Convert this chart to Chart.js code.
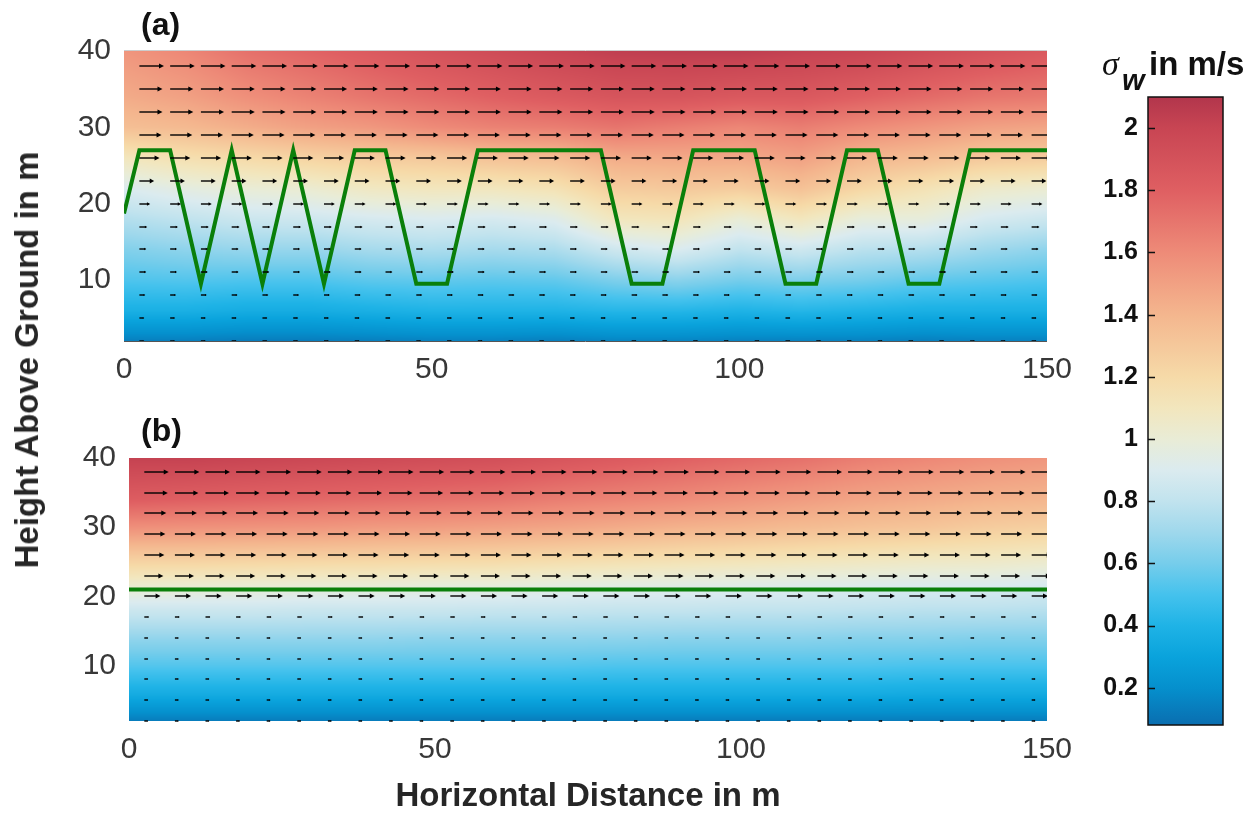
<!DOCTYPE html>
<html>
<head>
<meta charset="utf-8">
<script src="https://cdn.jsdelivr.net/npm/chart.js@4.4.1/dist/chart.umd.min.js"></script>
<style>
  body { margin: 0; background: #fff; width: 1259px; height: 814px; position: relative; overflow: hidden; }
  canvas { position: absolute; }
  #ylab {
    position: absolute; left: 27px; top: 360px;
    transform: translate(-50%, -50%) rotate(-90deg);
    white-space: nowrap; color: #262626;
    font: bold 33px "Liberation Sans", Arial, sans-serif;
  }
</style>
</head>
<body>
<canvas id="panelA" width="1100" height="400" style="left:0;top:0"></canvas>
<canvas id="panelB" width="1100" height="414" style="left:0;top:400px"></canvas>
<canvas id="cbar" width="219" height="814" style="left:1040px;top:0"></canvas>
<div id="ylab">Height Above Ground in m</div>
<script>
const FONT = '"Liberation Sans", Arial, Helvetica, sans-serif';

// axes ticks
const xTicks = [0, 50, 100, 150];
const yTicks = [10, 20, 30, 40];
const cbTicks = [0.2, 0.4, 0.6, 0.8, 1, 1.2, 1.4, 1.6, 1.8, 2];
const cMin = 0.08, cMax = 2.1;

// sigma_w field (m/s), columns at gridX, rows at gridY (bottom row first)
const gridX = [0, 10, 20, 30, 40, 50, 60, 70, 80, 90, 100, 110, 120, 130, 140, 150];
const gridY = [2, 6, 10, 14, 18, 22, 26, 30, 34, 40];

const sigmaA = [
  [0.14, 0.14, 0.13, 0.13, 0.14, 0.15, 0.15, 0.14, 0.16, 0.16, 0.15, 0.15, 0.15, 0.14, 0.15, 0.15],
  [0.38, 0.38, 0.36, 0.36, 0.38, 0.40, 0.40, 0.40, 0.42, 0.42, 0.40, 0.42, 0.40, 0.38, 0.38, 0.38],
  [0.52, 0.53, 0.52, 0.52, 0.55, 0.56, 0.55, 0.56, 0.62, 0.65, 0.60, 0.62, 0.60, 0.56, 0.54, 0.52],
  [0.63, 0.66, 0.68, 0.68, 0.72, 0.74, 0.72, 0.74, 0.85, 0.90, 0.80, 0.85, 0.78, 0.76, 0.70, 0.66],
  [0.76, 0.80, 0.84, 0.85, 0.88, 0.90, 0.88, 0.92, 1.10, 1.12, 1.00, 1.10, 0.98, 0.98, 0.88, 0.84],
  [0.90, 0.96, 1.00, 1.02, 1.08, 1.10, 1.10, 1.14, 1.28, 1.30, 1.28, 1.34, 1.22, 1.14, 1.05, 1.02],
  [1.10, 1.16, 1.20, 1.24, 1.28, 1.30, 1.34, 1.36, 1.45, 1.46, 1.46, 1.50, 1.40, 1.36, 1.30, 1.28],
  [1.35, 1.38, 1.44, 1.50, 1.54, 1.60, 1.64, 1.66, 1.70, 1.66, 1.62, 1.66, 1.60, 1.55, 1.50, 1.48],
  [1.45, 1.50, 1.58, 1.64, 1.70, 1.75, 1.80, 1.84, 1.88, 1.88, 1.85, 1.85, 1.80, 1.75, 1.70, 1.68],
  [1.55, 1.62, 1.72, 1.78, 1.84, 1.90, 1.95, 2.00, 2.04, 2.05, 2.05, 2.02, 2.00, 1.95, 1.90, 1.85]
];

const sigmaB = [
  [0.13, 0.13, 0.13, 0.13, 0.13, 0.13, 0.13, 0.13, 0.13, 0.13, 0.13, 0.13, 0.13, 0.13, 0.13, 0.13],
  [0.36, 0.36, 0.36, 0.36, 0.36, 0.36, 0.36, 0.36, 0.36, 0.36, 0.36, 0.36, 0.36, 0.35, 0.35, 0.35],
  [0.53, 0.53, 0.53, 0.53, 0.53, 0.53, 0.53, 0.53, 0.52, 0.52, 0.52, 0.52, 0.52, 0.51, 0.51, 0.51],
  [0.67, 0.67, 0.67, 0.67, 0.67, 0.66, 0.66, 0.66, 0.66, 0.65, 0.65, 0.65, 0.64, 0.64, 0.63, 0.63],
  [0.84, 0.84, 0.84, 0.83, 0.83, 0.83, 0.82, 0.82, 0.81, 0.81, 0.80, 0.80, 0.79, 0.78, 0.78, 0.77],
  [1.05, 1.04, 1.03, 1.02, 1.02, 1.00, 1.00, 0.98, 0.97, 0.96, 0.95, 0.94, 0.93, 0.92, 0.92, 0.90],
  [1.30, 1.30, 1.29, 1.28, 1.27, 1.26, 1.25, 1.23, 1.21, 1.19, 1.17, 1.15, 1.13, 1.11, 1.10, 1.08],
  [1.58, 1.57, 1.56, 1.55, 1.53, 1.52, 1.50, 1.48, 1.45, 1.42, 1.40, 1.37, 1.34, 1.32, 1.28, 1.26],
  [1.82, 1.80, 1.78, 1.76, 1.74, 1.72, 1.70, 1.66, 1.63, 1.60, 1.56, 1.52, 1.48, 1.45, 1.42, 1.40],
  [2.02, 2.02, 2.00, 1.98, 1.96, 1.94, 1.92, 1.88, 1.84, 1.80, 1.76, 1.72, 1.66, 1.62, 1.58, 1.55]
];

// wind arrows: tails at quiverX x quiverY, horizontal speed per row (m/s, bottom row first)
const quiverX = [2.5, 7.5, 12.5, 17.5, 22.5, 27.5, 32.5, 37.5, 42.5, 47.5, 52.5, 57.5, 62.5, 67.5, 72.5,
                 77.5, 82.5, 87.5, 92.5, 97.5, 102.5, 107.5, 112.5, 117.5, 122.5, 127.5, 132.5, 137.5, 142.5, 147.5];
const quiverY = [2, 5, 8, 11, 14, 17, 20, 23, 26, 29, 32, 35, 38];
const windA = [1.0, 1.0, 1.2, 1.4, 1.4, 1.6, 2.2, 3.0, 4.1, 4.5, 4.7, 4.7, 5.0];
const windB = [0.8, 0.8, 0.8, 0.8, 0.8, 1.0, 3.3, 3.9, 4.1, 4.3, 4.5, 4.8, 5.0];
const arrowScale = 0.8; // m of arrow per m/s

// green line (a): flight path, (b): constant height
const pathAx = [0, 2.5, 7.5, 12.5, 17.5, 22.5, 27.5, 32.5, 37.5, 42.5, 47.5, 52.5, 57.5, 77.5,
                82.5, 87.5, 92.5, 102.5, 107.5, 112.5, 117.5, 122.5, 127.5, 132.5, 137.5, 150];
const pathAy = [18.7, 27, 27, 9.5, 27, 9.5, 27, 9.5, 27, 27, 9.5, 9.5, 27, 27,
                9.5, 9.5, 27, 27, 9.5, 9.5, 27, 27, 9.5, 9.5, 27, 27];
const pathBx = [0, 150];
const pathBy = [21, 21];

// colormap
const cmapStops = [0.08, 0.2, 0.3, 0.4, 0.5, 0.6, 0.7, 0.8, 0.9, 1.0, 1.1, 1.2, 1.4, 1.6, 1.8, 2.0, 2.1];
const cmapColors = ['#0a6eb0', '#0590cd', '#0aa3dc', '#1fb3e6', '#45c2ed', '#76cdeb', '#9fd8ec', '#c1e3ee',
                    '#dbebef', '#e9ecd6', '#f2e6bd', '#f6daa8', '#f4b68e', '#ee8b78', '#df5f62', '#c84553', '#b2364c'];
const cmapRGB = cmapColors.map(h => [1, 3, 5].map(k => parseInt(h.substr(k, 2), 16)));

function colorFor(v) {
  if (v <= cmapStops[0]) return cmapRGB[0];
  const n = cmapStops.length;
  if (v >= cmapStops[n - 1]) return cmapRGB[n - 1];
  let k = 0;
  while (v > cmapStops[k + 1]) k++;
  const t = (v - cmapStops[k]) / (cmapStops[k + 1] - cmapStops[k]);
  return cmapRGB[k].map((c, m) => c + (cmapRGB[k + 1][m] - c) * t);
}

function findCell(arr, v) {
  let i = 0;
  while (i < arr.length - 2 && v > arr[i + 1]) i++;
  const t = Math.min(1, Math.max(0, (v - arr[i]) / (arr[i + 1] - arr[i])));
  return [i, t];
}

function fieldPlugin(field, wind, label) {
  return {
    id: 'field' + label,
    beforeDatasetsDraw(chart) {
      const { ctx, chartArea: a, scales: { x, y } } = chart;
      const w = Math.round(a.right - a.left), h = Math.round(a.bottom - a.top);
      const off = document.createElement('canvas');
      off.width = w; off.height = h;
      const octx = off.getContext('2d');
      const img = octx.createImageData(w, h);
      for (let py = 0; py < h; py++) {
        const [j, ty] = findCell(gridY, y.getValueForPixel(a.top + py + 0.5));
        for (let px = 0; px < w; px++) {
          const [i, tx] = findCell(gridX, x.getValueForPixel(a.left + px + 0.5));
          const v0 = field[j][i] + (field[j][i + 1] - field[j][i]) * tx;
          const v1 = field[j + 1][i] + (field[j + 1][i + 1] - field[j + 1][i]) * tx;
          const c = colorFor(v0 + (v1 - v0) * ty);
          const p = (py * w + px) * 4;
          img.data[p] = c[0]; img.data[p + 1] = c[1]; img.data[p + 2] = c[2]; img.data[p + 3] = 255;
        }
      }
      octx.putImageData(img, 0, 0);
      ctx.drawImage(off, a.left, a.top);
    },
    afterDatasetsDraw(chart) {
      const { ctx, chartArea: a, scales: { x, y } } = chart;
      ctx.save();
      ctx.beginPath();
      ctx.rect(a.left, a.top, a.right - a.left, a.bottom - a.top + 2);
      ctx.clip();
      ctx.strokeStyle = '#000';
      ctx.fillStyle = '#000';
      ctx.lineWidth = 1.4;
      quiverY.forEach((qy, j) => {
        quiverX.forEach(qx => {
          const x0 = x.getPixelForValue(qx), y0 = Math.round(y.getPixelForValue(qy));
          const x1 = x.getPixelForValue(qx + wind[j] * arrowScale);
          const L = x1 - x0, hl = Math.min(5, L * 0.3), hw = Math.min(2.6, hl * 0.55);
          ctx.beginPath();
          ctx.moveTo(x0, y0); ctx.lineTo(x1 - hl * 0.5, y0);
          ctx.stroke();
          ctx.beginPath();
          ctx.moveTo(x1, y0); ctx.lineTo(x1 - hl, y0 - hw); ctx.lineTo(x1 - hl, y0 + hw);
          ctx.closePath();
          ctx.fill();
        });
      });
      ctx.restore();
      if (label === 'a') {
        ctx.save();
        ctx.strokeStyle = '#555'; ctx.lineWidth = 1;
        ctx.beginPath(); ctx.moveTo(a.left, a.bottom + 0.5); ctx.lineTo(a.right, a.bottom + 0.5); ctx.stroke();
        ctx.strokeStyle = '#ccc';
        ctx.beginPath(); ctx.moveTo(a.left, a.top - 0.5); ctx.lineTo(a.right, a.top - 0.5); ctx.stroke();
        ctx.restore();
      }
    },
    afterDraw(chart) {
      const { ctx } = chart;
      ctx.save();
      ctx.font = 'bold 32px ' + FONT;
      ctx.fillStyle = '#111';
      ctx.textBaseline = 'middle';
      ctx.fillText('(' + label + ')', 141, label === 'a' ? 26 : 32);
      ctx.restore();
    }
  };
}

function panel(canvasId, field, wind, px, py, label, area, withTitle) {
  return new Chart(document.getElementById(canvasId), {
    type: 'scatter',
    data: {
      datasets: [{
        data: px.map((v, k) => ({ x: v, y: py[k] })),
        showLine: true,
        borderColor: '#0a7f0a',
        borderWidth: 4,
        pointRadius: 0,
        fill: false
      }]
    },
    options: {
      responsive: false,
      animation: false,
      layout: { padding: { left: 0, right: area.right, top: area.top, bottom: 0 } },
      plugins: { legend: { display: false }, tooltip: { enabled: false } },
      scales: {
        x: {
          type: 'linear', min: 0, max: 150,
          afterBuildTicks: ax => { ax.ticks = xTicks.map(v => ({ value: v })); },
          afterFit: ax => { ax.height = area.xh; },
          grid: { display: false, drawTicks: false },
          border: { display: false },
          ticks: { font: { size: 30, family: FONT, lineHeight: 1.2 }, color: '#383838', padding: 11, maxRotation: 0, autoSkip: false },
          title: {
            display: withTitle, text: 'Horizontal Distance in m', color: '#262626',
            font: { size: 33, weight: 'bold', family: FONT, lineHeight: 1 }, padding: { top: 0, bottom: 1 }
          }
        },
        y: {
          type: 'linear', min: 2, max: 40,
          afterBuildTicks: ax => { ax.ticks = yTicks.map(v => ({ value: v })); },
          afterFit: ax => { ax.width = area.left; },
          grid: { display: false, drawTicks: false },
          border: { display: false },
          ticks: { font: { size: 30, family: FONT }, color: '#383838', padding: 13 }
        }
      }
    },
    plugins: [fieldPlugin(field, wind, label)]
  });
}

panel('panelA', sigmaA, windA, pathAx, pathAy, 'a', { left: 124, right: 53, top: 51, xh: 59 }, false);
panel('panelB', sigmaB, windB, pathBx, pathBy, 'b', { left: 129, right: 53, top: 58, xh: 93 }, true);

// colorbar
new Chart(document.getElementById('cbar'), {
  type: 'scatter',
  data: { datasets: [{ data: [] }] },
  options: {
    responsive: false,
    animation: false,
    layout: { padding: { left: 0, right: 36, top: 97, bottom: 89 } },
    plugins: { legend: { display: false }, tooltip: { enabled: false } },
    scales: {
      x: { display: false, min: 0, max: 1 },
      y: {
        min: cMin, max: cMax,
        afterBuildTicks: ax => { ax.ticks = cbTicks.map(v => ({ value: v })); },
        afterFit: ax => { ax.width = 108; },
        grid: { display: false, drawTicks: false },
        border: { display: false },
        ticks: {
          font: { size: 25, weight: 'bold', family: FONT }, color: '#111', padding: 10,
          callback: v => String(+(+v).toFixed(1))
        }
      }
    }
  },
  plugins: [{
    id: 'cbarFill',
    beforeDatasetsDraw(chart) {
      const { ctx, chartArea: a, scales: { y } } = chart;
      const g = ctx.createLinearGradient(0, y.getPixelForValue(cMin), 0, y.getPixelForValue(cMax));
      cmapStops.forEach((s, k) => g.addColorStop((s - cMin) / (cMax - cMin), cmapColors[k]));
      ctx.save();
      ctx.fillStyle = g;
      ctx.fillRect(a.left, a.top, a.right - a.left, a.bottom - a.top);
      ctx.strokeStyle = '#111';
      ctx.lineWidth = 1.5;
      ctx.strokeRect(a.left, a.top, a.right - a.left, a.bottom - a.top);
      ctx.beginPath();
      cbTicks.forEach(v => {
        const ty = Math.round(y.getPixelForValue(v)) + 0.5;
        ctx.moveTo(a.left, ty); ctx.lineTo(a.left + 7, ty);
      });
      ctx.stroke();
      ctx.restore();
    },
    afterDraw(chart) {
      const { ctx } = chart;
      ctx.save();
      ctx.fillStyle = '#111';
      ctx.textBaseline = 'alphabetic';
      ctx.font = 'italic 34px "Liberation Serif", "DejaVu Serif", serif';
      ctx.fillText('σ', 62, 75);
      ctx.font = 'bold italic 29px ' + FONT;
      ctx.fillText('w', 82, 90);
      ctx.font = 'bold 33px ' + FONT;
      ctx.fillText('in m/s', 109, 75);
      ctx.restore();
    }
  }]
});
</script>
</body>
</html>
